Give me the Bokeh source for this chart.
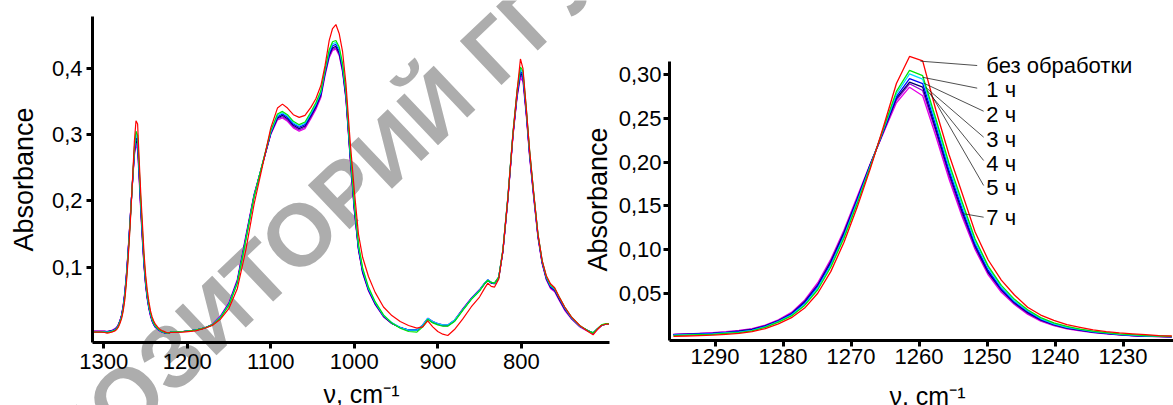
import math
from bokeh.plotting import figure
from bokeh.layouts import row
from bokeh.models import Range1d, FixedTicker, CustomJSTickFormatter, Label
from bokeh.core.properties import value
from bokeh.embed import file_html
from bokeh.resources import INLINE

FONT = "Liberation Sans"

# ---------------- data ----------------
series_names = ["без обработки", "1 ч", "2 ч", "3 ч", "4 ч", "5 ч", "7 ч"]
series_colors = ["#ff0000", "#00e600", "#00d8ff", "#0000ff", "#000066", "#9400d3", "#e600e6"]

# zoom region around the 1260 cm-1 band (right panel, also part of left panel)
x_mid = [1296.12, 1294.19, 1292.26, 1290.33, 1288.40, 1286.48, 1284.55, 1282.62, 1280.69, 1278.76,
         1276.83, 1274.90, 1272.97, 1271.05, 1269.12, 1267.19, 1265.26, 1263.33, 1261.40, 1259.47,
         1257.54, 1255.61, 1253.69, 1251.76, 1249.83, 1247.90, 1245.97, 1244.04, 1242.11, 1240.18,
         1238.26, 1236.33, 1234.40, 1232.47, 1230.54, 1228.61, 1226.68, 1224.75, 1222.83]

y_mid_0 = [0.0005, 0.001, 0.0015, 0.002, 0.003, 0.004, 0.006, 0.0095, 0.015, 0.022,
           0.033, 0.050, 0.075, 0.108, 0.148, 0.192, 0.240, 0.290, 0.321, 0.316,
           0.260, 0.209, 0.165, 0.120, 0.088, 0.065, 0.048, 0.034, 0.025, 0.019,
           0.014, 0.011, 0.008, 0.006, 0.0045, 0.0035, 0.0025, 0.0015, 0.001]
y_mid_1 = [0.0015, 0.002, 0.0025, 0.003, 0.004, 0.005, 0.007, 0.011, 0.017, 0.024,
           0.036, 0.054, 0.080, 0.113, 0.152, 0.194, 0.238, 0.281, 0.305, 0.299,
           0.250, 0.199, 0.155, 0.112, 0.081, 0.059, 0.043, 0.031, 0.022, 0.016,
           0.012, 0.009, 0.0065, 0.005, 0.0035, 0.0025, 0.0015, 0.001, 0.0005]
y_mid_2 = [0.002, 0.0025, 0.003, 0.0035, 0.0045, 0.0055, 0.0075, 0.0115, 0.0175, 0.025,
           0.037, 0.056, 0.082, 0.115, 0.154, 0.195, 0.237, 0.278, 0.301, 0.295,
           0.246, 0.195, 0.151, 0.109, 0.079, 0.057, 0.041, 0.030, 0.021, 0.015,
           0.011, 0.0085, 0.006, 0.0045, 0.003, 0.002, 0.0012, 0.0008, 0.0003]
y_mid_3 = [0.0025, 0.003, 0.0035, 0.004, 0.005, 0.006, 0.008, 0.012, 0.018, 0.026,
           0.039, 0.058, 0.084, 0.117, 0.156, 0.196, 0.236, 0.275, 0.2955, 0.290,
           0.242, 0.191, 0.147, 0.106, 0.076, 0.055, 0.040, 0.029, 0.020, 0.0145,
           0.0105, 0.008, 0.0058, 0.0042, 0.0028, 0.0018, 0.001, 0.0006, 0.0002]
y_mid_4 = [0.0025, 0.003, 0.0035, 0.004, 0.005, 0.0065, 0.0085, 0.0125, 0.0185, 0.0265,
           0.040, 0.059, 0.086, 0.119, 0.157, 0.197, 0.235, 0.273, 0.2916, 0.286,
           0.238, 0.188, 0.144, 0.104, 0.074, 0.054, 0.039, 0.028, 0.0195, 0.014,
           0.010, 0.0077, 0.0055, 0.004, 0.0026, 0.0016, 0.0009, 0.0005, 0.0001]
y_mid_5 = [0.003, 0.0035, 0.004, 0.0045, 0.0055, 0.007, 0.009, 0.013, 0.019, 0.027,
           0.041, 0.060, 0.087, 0.120, 0.158, 0.197, 0.234, 0.271, 0.2897, 0.282,
           0.235, 0.185, 0.141, 0.102, 0.073, 0.053, 0.038, 0.027, 0.019, 0.0135,
           0.0097, 0.0074, 0.0052, 0.0038, 0.0024, 0.0015, 0.0008, 0.0004, 0.0]
y_mid_6 = [0.003, 0.0035, 0.004, 0.005, 0.006, 0.0075, 0.0095, 0.0135, 0.0195, 0.028,
           0.042, 0.062, 0.089, 0.122, 0.160, 0.198, 0.233, 0.268, 0.2858, 0.276,
           0.230, 0.181, 0.138, 0.100, 0.071, 0.051, 0.037, 0.026, 0.018, 0.013,
           0.0093, 0.007, 0.005, 0.0036, 0.0022, 0.0013, 0.0007, 0.0003, 0.0]

# high-wavenumber edge of the full spectrum
x_high = [1313, 1308, 1303, 1299]
y_high_0 = [0.002, 0.002, 0.002, 0.0015]
y_high_1 = [0.002, 0.002, 0.002, 0.002]
y_high_2 = [0.0025, 0.0025, 0.0025, 0.0025]
y_high_3 = [0.003, 0.003, 0.003, 0.003]
y_high_4 = [0.003, 0.003, 0.003, 0.003]
y_high_5 = [0.0035, 0.0035, 0.0035, 0.0035]
y_high_6 = [0.0035, 0.0035, 0.0035, 0.0035]

# low-wavenumber part of the full spectrum
x_low = [1220, 1205, 1190, 1180, 1170, 1160, 1150, 1140, 1130, 1120,
         1110, 1100, 1092, 1086, 1080, 1073, 1066, 1059, 1052, 1046,
         1040, 1035, 1030, 1026, 1022, 1018, 1014, 1010, 1005, 1000,
         995, 990, 983, 975, 965, 955, 945, 935, 925, 918,
         912, 906, 900, 894, 888, 880, 870, 860, 850, 844,
         840, 836, 832, 827, 822, 816, 810, 805, 801, 798,
         794, 790, 785, 780, 775, 770, 765, 760, 755, 748,
         740, 730, 720, 714, 709, 704, 699, 695]

y_low_0 = [0.0015, 0.002, 0.004, 0.0075, 0.012, 0.022, 0.038, 0.068, 0.125, 0.195,
           0.252, 0.310, 0.340, 0.346, 0.340, 0.330, 0.326, 0.329, 0.341, 0.354,
           0.374, 0.404, 0.442, 0.460, 0.466, 0.452, 0.425, 0.377, 0.291, 0.216,
           0.150, 0.115, 0.086, 0.062, 0.040, 0.027, 0.018, 0.012, 0.008, 0.010,
           0.019, 0.010, 0.003, -0.001, -0.003, 0.006, 0.022, 0.040, 0.055, 0.068,
           0.076, 0.071, 0.070, 0.082, 0.125, 0.205, 0.300, 0.366, 0.414, 0.400,
           0.340, 0.276, 0.210, 0.150, 0.110, 0.087, 0.075, 0.069, 0.056, 0.040,
           0.025, 0.012, 0.003, -0.002, 0.006, 0.012, 0.014, 0.014]
y_low_1 = [0.002, 0.003, 0.005, 0.008, 0.013, 0.024, 0.043, 0.076, 0.140, 0.206,
           0.256, 0.306, 0.331, 0.335, 0.330, 0.320, 0.315, 0.319, 0.334, 0.348,
           0.366, 0.399, 0.428, 0.440, 0.442, 0.432, 0.407, 0.366, 0.278, 0.198,
           0.135, 0.099, 0.070, 0.048, 0.028, 0.016, 0.008, 0.003, 0.002, 0.010,
           0.021, 0.016, 0.013, 0.011, 0.011, 0.018, 0.035, 0.051, 0.064, 0.075,
           0.080, 0.077, 0.076, 0.085, 0.127, 0.207, 0.303, 0.367, 0.402, 0.396,
           0.340, 0.276, 0.211, 0.150, 0.110, 0.086, 0.073, 0.068, 0.056, 0.040,
           0.025, 0.012, 0.004, 0.001, 0.007, 0.013, 0.015, 0.015]
y_low_2 = [0.002, 0.003, 0.005, 0.008, 0.013, 0.025, 0.044, 0.077, 0.141, 0.207,
           0.256, 0.304, 0.329, 0.333, 0.328, 0.318, 0.313, 0.317, 0.332, 0.346,
           0.364, 0.397, 0.425, 0.437, 0.439, 0.429, 0.404, 0.363, 0.275, 0.195,
           0.132, 0.097, 0.068, 0.047, 0.027, 0.016, 0.009, 0.005, 0.005, 0.013,
           0.023, 0.018, 0.015, 0.013, 0.013, 0.020, 0.036, 0.052, 0.065, 0.076,
           0.081, 0.077, 0.076, 0.085, 0.126, 0.206, 0.301, 0.364, 0.399, 0.393,
           0.337, 0.274, 0.209, 0.149, 0.109, 0.085, 0.072, 0.067, 0.055, 0.039,
           0.024, 0.011, 0.004, 0.001, 0.007, 0.012, 0.014, 0.014]
y_low_3 = [0.002, 0.003, 0.005, 0.008, 0.013, 0.025, 0.044, 0.078, 0.142, 0.207,
           0.255, 0.303, 0.327, 0.331, 0.326, 0.316, 0.311, 0.315, 0.330, 0.344,
           0.362, 0.395, 0.422, 0.434, 0.436, 0.426, 0.401, 0.360, 0.272, 0.192,
           0.130, 0.095, 0.067, 0.046, 0.027, 0.016, 0.009, 0.005, 0.005, 0.012,
           0.022, 0.017, 0.014, 0.012, 0.012, 0.019, 0.036, 0.052, 0.065, 0.075,
           0.080, 0.076, 0.075, 0.084, 0.125, 0.205, 0.300, 0.362, 0.396, 0.390,
           0.335, 0.272, 0.208, 0.148, 0.108, 0.084, 0.071, 0.066, 0.054, 0.038,
           0.024, 0.011, 0.004, 0.001, 0.007, 0.012, 0.014, 0.014]
y_low_4 = [0.002, 0.003, 0.005, 0.008, 0.013, 0.025, 0.045, 0.079, 0.143, 0.208,
           0.255, 0.302, 0.325, 0.329, 0.324, 0.314, 0.309, 0.313, 0.328, 0.342,
           0.360, 0.393, 0.420, 0.431, 0.433, 0.423, 0.398, 0.357, 0.269, 0.189,
           0.128, 0.093, 0.066, 0.045, 0.026, 0.015, 0.009, 0.005, 0.005, 0.012,
           0.022, 0.017, 0.014, 0.012, 0.012, 0.019, 0.036, 0.052, 0.065, 0.075,
           0.080, 0.076, 0.075, 0.084, 0.124, 0.204, 0.299, 0.360, 0.393, 0.387,
           0.333, 0.270, 0.207, 0.147, 0.107, 0.083, 0.070, 0.065, 0.053, 0.037,
           0.023, 0.011, 0.004, 0.001, 0.007, 0.012, 0.014, 0.014]
y_low_5 = [0.002, 0.003, 0.005, 0.008, 0.013, 0.026, 0.046, 0.080, 0.145, 0.209,
           0.255, 0.301, 0.324, 0.327, 0.322, 0.312, 0.307, 0.311, 0.326, 0.340,
           0.358, 0.391, 0.418, 0.429, 0.431, 0.421, 0.396, 0.355, 0.267, 0.187,
           0.127, 0.092, 0.065, 0.044, 0.026, 0.015, 0.009, 0.005, 0.005, 0.013,
           0.023, 0.018, 0.015, 0.013, 0.013, 0.020, 0.037, 0.053, 0.066, 0.076,
           0.081, 0.077, 0.076, 0.085, 0.124, 0.203, 0.298, 0.358, 0.390, 0.384,
           0.331, 0.268, 0.205, 0.146, 0.106, 0.082, 0.069, 0.064, 0.052, 0.036,
           0.023, 0.011, 0.004, 0.000, 0.006, 0.012, 0.014, 0.014]
y_low_6 = [0.002, 0.003, 0.005, 0.008, 0.014, 0.027, 0.047, 0.082, 0.147, 0.210,
           0.255, 0.300, 0.322, 0.325, 0.320, 0.310, 0.305, 0.309, 0.324, 0.338,
           0.356, 0.389, 0.416, 0.427, 0.429, 0.419, 0.394, 0.353, 0.265, 0.185,
           0.126, 0.091, 0.064, 0.044, 0.025, 0.015, 0.009, 0.005, 0.005, 0.013,
           0.023, 0.018, 0.015, 0.013, 0.013, 0.020, 0.037, 0.053, 0.066, 0.076,
           0.081, 0.077, 0.076, 0.085, 0.123, 0.202, 0.296, 0.356, 0.386, 0.380,
           0.328, 0.266, 0.203, 0.144, 0.105, 0.081, 0.068, 0.063, 0.051, 0.035,
           0.022, 0.010, 0.003, 0.000, 0.006, 0.012, 0.014, 0.014]

y_mid = [y_mid_0, y_mid_1, y_mid_2, y_mid_3, y_mid_4, y_mid_5, y_mid_6]
y_high = [y_high_0, y_high_1, y_high_2, y_high_3, y_high_4, y_high_5, y_high_6]
y_low = [y_low_0, y_low_1, y_low_2, y_low_3, y_low_4, y_low_5, y_low_6]

left_x_ticks = [1300, 1200, 1100, 1000, 900, 800]
left_y_ticks = [0.1, 0.2, 0.3, 0.4]
right_x_ticks = [1290, 1280, 1270, 1260, 1250, 1240, 1230]
right_y_ticks = [0.05, 0.10, 0.15, 0.20, 0.25, 0.30]
x_title = "ν, cm⁻¹"
y_title = "Absorbance"
watermark = "РЕПОЗИТОРИЙ ГГУ"

# axis extents (data units) of the two panels
left_x_extent = (694.6, 1313.5)
left_y_extent = (-0.0136, 0.478)
right_x_extent = (1222.58, 1296.7)
right_y_extent = (-0.0041, 0.315)

# annotation anchors (right panel): label y and leader lines from curve to label
label_x = 1250.1
label_y = [0.3106, 0.2832, 0.2545, 0.2259, 0.1985, 0.171, 0.1367]
leader_x0 = [1259.8, 1259.5, 1259.3, 1259.05, 1258.8, 1258.3, 1253.5]
leader_y0 = [0.3156, 0.2972, 0.2904, 0.2858, 0.282, 0.2786, 0.141]
leader_x1 = [1251.45, 1251.45, 1250.5, 1250.5, 1250.5, 1250.5, 1250.5]
leader_y1 = [0.3106, 0.2847, 0.2583, 0.2286, 0.2019, 0.1733, 0.137]


def style_axes(p, xt, yt, ydec, xext, yext, xstand, ystand):
    xa, ya = p.xaxis[0], p.yaxis[0]
    for ax in (xa, ya):
        ax.axis_line_width = 3
        ax.axis_line_color = "black"
        ax.major_tick_line_width = 3
        ax.major_tick_line_color = "black"
        ax.major_tick_out = 6
        ax.major_tick_in = 0
        ax.minor_tick_line_color = None
        ax.major_label_text_font = FONT
        ax.major_label_text_font_size = "22px"
        ax.major_label_text_color = "black"
    xa.ticker = FixedTicker(ticks=xt)
    ya.ticker = FixedTicker(ticks=yt)
    xa.formatter = CustomJSTickFormatter(code="return tick.toFixed(0);")
    ya.formatter = CustomJSTickFormatter(
        code="return tick.toFixed(%d).replace('.', ',');" % ydec)
    xa.major_label_standoff = xstand
    ya.major_label_standoff = ystand
    xa.bounds = xext
    ya.bounds = yext
    xa.fixed_location = yext[0]
    ya.fixed_location = xext[1]
    p.xgrid.grid_line_color = None
    p.ygrid.grid_line_color = None
    p.outline_line_color = None
    p.background_fill_color = "white"
    p.border_fill_color = "white"


def text_label(p, x, y, txt, size, angle=0.0, baseline="middle", color="black",
               style="normal", level="annotation"):
    p.add_layout(Label(x=x, y=y, x_units="screen", y_units="screen", text=txt,
                       angle=angle, angle_units="rad", text_align="center",
                       text_baseline=baseline, text_font=FONT, text_font_size=size,
                       text_font_style=style, text_color=color, level=level))


# ---------------- left panel ----------------
p1 = figure(width=614, height=405, output_backend="svg", toolbar_location=None,
            x_range=Range1d(1423.68, 688.35), y_range=Range1d(-0.1086, 0.50226),
            min_border_left=0, min_border_right=0, min_border_top=0, min_border_bottom=0)
style_axes(p1, left_x_ticks, left_y_ticks, 1, left_x_extent, left_y_extent, 5, 4)

text_label(p1, 279, 152, watermark, "88px", angle=0.759, color="#adadad",
           style="bold", level="underlay")

order = [6, 5, 4, 3, 2, 1, 0]
for i in order:
    xs = x_high + x_mid + x_low
    ys = y_high[i] + y_mid[i] + y_low[i]
    p1.line(xs, ys, line_color=series_colors[i], line_width=1.2)

text_label(p1, 23, 226, y_title, "27px", angle=math.pi / 2)
text_label(p1, 361, 12, x_title, "25px", baseline="alphabetic")
# y title of the right panel (sits left of its tick labels)
text_label(p1, 597, 206, y_title, "27px", angle=math.pi / 2)

# ---------------- right panel ----------------
p2 = figure(width=559, height=405, output_backend="svg", toolbar_location=None,
            x_range=Range1d(1304.79, 1222.58), y_range=Range1d(-0.07852, 0.38503),
            min_border_left=0, min_border_right=0, min_border_top=0, min_border_bottom=0)
style_axes(p2, right_x_ticks, right_y_ticks, 2, right_x_extent, right_y_extent, 3, 2)

for i in order:
    p2.line(x_mid, y_mid[i], line_color=series_colors[i], line_width=1.3)

p2.segment(x0=leader_x0, y0=leader_y0, x1=leader_x1, y1=leader_y1,
           line_color="#222222", line_width=0.8)
p2.text(x=[label_x] * len(series_names), y=label_y, text=series_names,
        text_font=value(FONT), text_font_size="22px", text_baseline="middle",
        text_align="left", text_color="black")

text_label(p2, 313, 10, x_title, "25px", baseline="alphabetic")

layout = row(p1, p2)
open("out.html", "w").write(file_html(layout, INLINE))
